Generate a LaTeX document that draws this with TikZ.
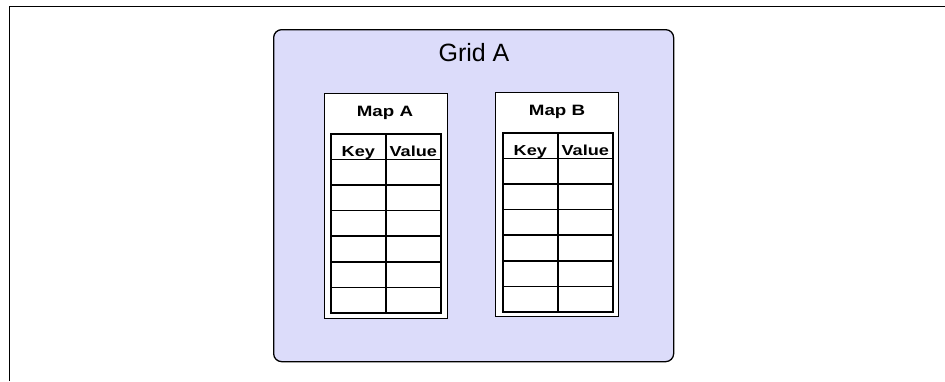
\documentclass[tikz,border=0pt]{standalone}
\usepackage{fontspec}
\setmainfont{Liberation Sans}
\usetikzlibrary{positioning}

\definecolor{lavanda}{RGB}{220,220,250}

% Texto ensanchado como en el dibujo original.
\newcommand{\ancho}[1]{\scalebox{1.25}[1]{#1}}

\tikzset{
    rejilla/.style={draw, line width=1.3pt, fill=lavanda, rounded corners=8pt, inner sep=0pt},
    mapa/.style={draw, line width=1.3pt, fill=white, inner sep=0pt},
    celda/.style={draw, line width=1.6pt, fill=white, inner sep=0pt,
        minimum width=55pt, minimum height=25.6pt},
    cabecera/.style={inner sep=0pt, anchor=base, font=\bfseries\fontsize{14.5}{14.5}\selectfont},
    titulo/.style={inner sep=0pt, font=\bfseries\fontsize{15}{15}\selectfont},
}

\begin{document}
\begin{tikzpicture}[x=1pt,y=-1pt]
        % Fija el marco de la figura.
        \useasboundingbox (0,0) rectangle (945,381);
        \coordinate (esqA) at (9,381);
        \coordinate (esqB) at (9,6);
        \coordinate (esqC) at (945,6);
        \draw[line width=1pt] (esqA) -- (esqB) -- (esqC);

        % Dibuja la rejilla con su nombre.
        \node[rejilla, minimum width=400pt, minimum height=332pt, anchor=north west]
            (grid) at (273,29) {};
        \node[font=\fontsize{25}{25}\selectfont] (gridname) at (474,53) {Grid A};

        % Dibuja los dos mapas.
        \node[mapa, minimum width=123pt, minimum height=225pt, anchor=north west]
            (mapA) at (324,93) {};
        \node[mapa, minimum width=123pt, minimum height=224pt, anchor=north west]
            (mapB) at (495,92) {};
        \node[titulo] (mapAname) at (385,113) {\ancho{Map A}};
        \node[titulo] (mapBname) at (557,112) {\ancho{Map B}};

        % Dibuja las tablas de claves y valores.
        \foreach \f in {0,...,6} {
            \node[celda, anchor=north west] (A-k-\f) at (330,133+25.6*\f) {};
            \node[celda, anchor=north west] (A-v-\f) at (385,133+25.6*\f) {};
            \node[celda, anchor=north west] (B-k-\f) at (502,132+25.6*\f) {};
            \node[celda, anchor=north west] (B-v-\f) at (557,132+25.6*\f) {};
        }

        % Etiqueta las cabeceras sobre una misma linea base.
        \node[above=3.5pt of A-k-0.south, cabecera] (A-key) {\ancho{Key}};
        \node[above=3.5pt of A-v-0.south, cabecera] (A-value) {\ancho{Value}};
        \node[above=3.5pt of B-k-0.south, cabecera] (B-key) {\ancho{Key}};
        \node[above=3.5pt of B-v-0.south, cabecera] (B-value) {\ancho{Value}};
    \end{tikzpicture}
\end{document}
